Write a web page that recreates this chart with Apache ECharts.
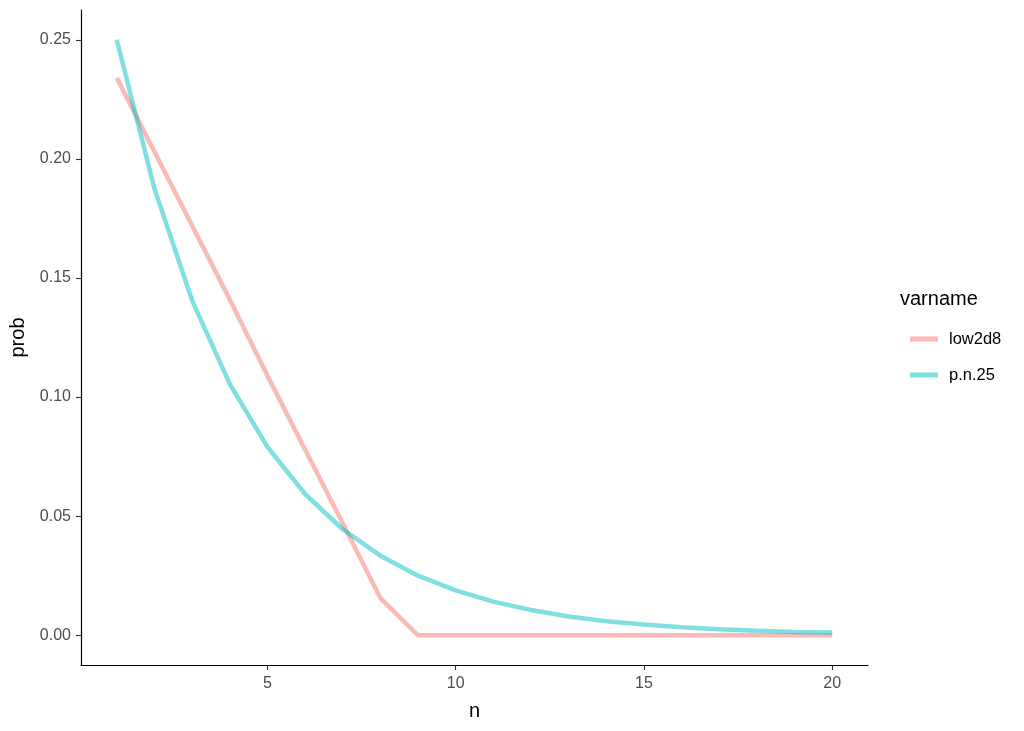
<!DOCTYPE html>
<html><head><meta charset="utf-8">
<script src="https://cdn.jsdelivr.net/npm/echarts@6/dist/echarts.min.js"></script>
<style>html,body{margin:0;padding:0;background:#fff}#c{width:1024px;height:731px}</style>
</head><body><div id="c"></div>
<script>
var nValues = [1,2,3,4,5,6,7,8,9,10,11,12,13,14,15,16,17,18,19,20];
var low2d8 = [0.234,0.203,0.172,0.141,0.109,0.078,0.047,0.0156,0,0,0,0,0,0,0,0,0,0,0,0];
var pn25 = [0.25,0.1875,0.1406,0.1055,0.0791,0.0593,0.0445,0.0334,0.025,0.0188,0.0141,0.0106,0.0079,0.0059,0.0045,0.0033,0.0025,0.0019,0.0014,0.0011];
var xTicks = [5,10,15,20];
var yTicks = [0,0.05,0.10,0.15,0.20,0.25];
var seriesNames = ['low2d8','p.n.25'];
var seriesColors = ['#F8766D','#00BFC4'];

function pairs(ys){return nValues.map(function(x,i){return [x,ys[i]];});}
var chart = echarts.init(document.getElementById('c'));
var font = 'Liberation Sans, Arial, sans-serif';
chart.setOption({
  animation:false,
  grid:{left:81,right:156,top:10,bottom:66},
  xAxis:{type:'value',min:0.05,max:20.95,name:'n',nameLocation:'middle',nameGap:36,
    nameTextStyle:{color:'#000',fontSize:20,fontFamily:font},
    axisLine:{show:true,onZero:false,lineStyle:{color:'#000',width:1.2}},
    axisTick:{show:true,length:5,lineStyle:{color:'#333',width:1.1},customValues:xTicks},
    axisLabel:{color:'#4D4D4D',fontSize:16,fontFamily:font,margin:11,customValues:xTicks},
    splitLine:{show:false}},
  yAxis:{type:'value',min:-0.0125,max:0.2625,name:'prob',nameLocation:'middle',nameGap:50,
    nameTextStyle:{color:'#000',fontSize:20,fontFamily:font},
    axisLine:{show:true,onZero:false,lineStyle:{color:'#000',width:1.2}},
    axisTick:{show:true,length:5,lineStyle:{color:'#333',width:1.1},customValues:yTicks},
    axisLabel:{color:'#4D4D4D',fontSize:16,fontFamily:font,margin:10,customValues:yTicks,
      formatter:function(v){return v.toFixed(2);}},
    splitLine:{show:false}},
  legend:{orient:'vertical',left:905,top:324,itemWidth:28,itemHeight:5,itemGap:16,
    icon:'rect',textStyle:{color:'#000',fontSize:16.5,lineHeight:20,fontFamily:font,padding:[0,0,0,6]},
    data:seriesNames.map(function(n,i){return {name:n,itemStyle:{color:seriesColors[i],opacity:0.5}};})},
  graphic:[{type:'text',left:900,top:289,style:{text:'varname',fill:'#000',font:'20px '+font}}],
  series:[
    {name:seriesNames[0],type:'line',data:pairs(low2d8),showSymbol:false,
      lineStyle:{color:seriesColors[0],width:4.5,opacity:0.5},itemStyle:{color:seriesColors[0]}},
    {name:seriesNames[1],type:'line',data:pairs(pn25),showSymbol:false,
      lineStyle:{color:seriesColors[1],width:4.5,opacity:0.5},itemStyle:{color:seriesColors[1]}}
  ]
});
</script></body></html>
